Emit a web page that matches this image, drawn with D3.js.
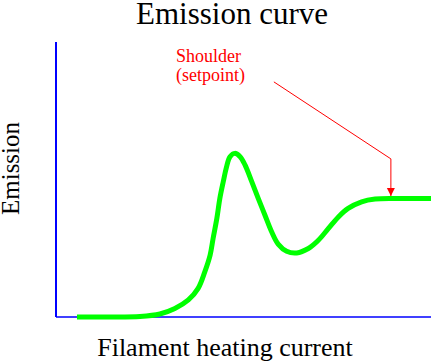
<!DOCTYPE html>
<html>
<head>
<meta charset="utf-8">
<script src="https://cdn.jsdelivr.net/npm/d3@7"></script>
<style>
  html, body { margin: 0; padding: 0; background: #fff; }
  svg { display: block; }
  text { font-family: "Liberation Serif", "Times New Roman", serif; }
</style>
</head>
<body>
<svg id="chart" width="435" height="364"></svg>
<script>
// Data (abstract units: current 0..100, emission 0..100)
const current  = [5.6, 14.4, 22.4, 27.7, 31.7, 35.3, 37.9, 39.7, 41.1, 41.9, 42.9, 43.7, 44.6, 45.5, 46.4, 47.7, 49.1, 50.4, 52.2, 53.9, 55.7, 57.5, 59.3, 61.5, 64.2, 67.3, 69.9, 72.6, 75.3, 77.9, 81.5, 85.1, 90.4, 100];
const emission = [0, 0, 0.2, 1.1, 3.1, 6.2, 10.4, 16.5, 22.5, 28.6, 35.9, 43.2, 49.2, 54.7, 58.3, 59.5, 58.3, 55.3, 49.2, 43.2, 37.1, 31.0, 26.4, 23.9, 23.3, 24.9, 27.8, 32.1, 36.4, 39.5, 41.9, 42.9, 43.1, 43.1];

const titleText = "Emission curve";
const xLabel = "Filament heating current";
const yLabel = "Emission";
const annotationLines = ["Shoulder", "(setpoint)"];
// annotation leader path (data units): start, elbow, target on shoulder
const leaderX = [58.1, 89.3, 89.3];
const leaderY = [85.5, 57.5, 44.0];

const svg = d3.select("#chart");
const x = d3.scaleLinear().domain([0, 100]).range([56, 431]);
const y = d3.scaleLinear().domain([0, 100]).range([317, 42]);

// Axes (plain blue lines, no ticks)
svg.append("line")
  .attr("x1", x(0)).attr("x2", x(0))
  .attr("y1", y(100)).attr("y2", y(0))
  .attr("stroke", "#0000ff").attr("stroke-width", 2);
svg.append("line")
  .attr("x1", x(0)).attr("x2", x(100))
  .attr("y1", y(0)).attr("y2", y(0))
  .attr("stroke", "#0000ff").attr("stroke-width", 1.5);

// Curve
const pts = current.map((c, i) => [c, emission[i]]);
const line = d3.line().x(d => x(d[0])).y(d => y(d[1])).curve(d3.curveCatmullRom.alpha(0.5));
svg.append("path")
  .attr("d", line(pts))
  .attr("fill", "none")
  .attr("stroke", "#00ff00")
  .attr("stroke-width", 5)
  .attr("stroke-linecap", "butt")
  .attr("stroke-linejoin", "round");

// Annotation leader
const defs = svg.append("defs");
defs.append("marker")
  .attr("id", "arrow")
  .attr("viewBox", "0 0 10 10")
  .attr("refX", 10).attr("refY", 5)
  .attr("markerWidth", 8).attr("markerHeight", 10)
  .attr("markerUnits", "userSpaceOnUse")
  .attr("orient", "auto")
  .append("path").attr("d", "M0,0 L10,5 L0,10 Z").attr("fill", "#ff0000");

const leader = leaderX.map((lx, i) => [lx, leaderY[i]]);
svg.append("path")
  .attr("d", d3.line().x(d => x(d[0])).y(d => y(d[1]))(leader))
  .attr("fill", "none")
  .attr("stroke", "#ff0000")
  .attr("stroke-width", 1)
  .attr("marker-end", "url(#arrow)");

// Annotation text
const ann = svg.append("text")
  .attr("fill", "#ff0000")
  .attr("font-size", 18);
annotationLines.forEach((t, i) => {
  ann.append("tspan").attr("x", 176).attr("y", 62 + i * 18.5).text(t);
});

// Title and axis labels
svg.append("text")
  .attr("x", 232).attr("y", 24)
  .attr("text-anchor", "middle")
  .attr("font-size", 31)
  .attr("fill", "#000")
  .text(titleText);

svg.append("text")
  .attr("x", 225).attr("y", 356)
  .attr("text-anchor", "middle")
  .attr("font-size", 26)
  .attr("fill", "#000")
  .text(xLabel);

svg.append("text")
  .attr("transform", "translate(19,168.5) rotate(-90)")
  .attr("text-anchor", "middle")
  .attr("font-size", 25)
  .attr("fill", "#000")
  .text(yLabel);
</script>
</body>
</html>
